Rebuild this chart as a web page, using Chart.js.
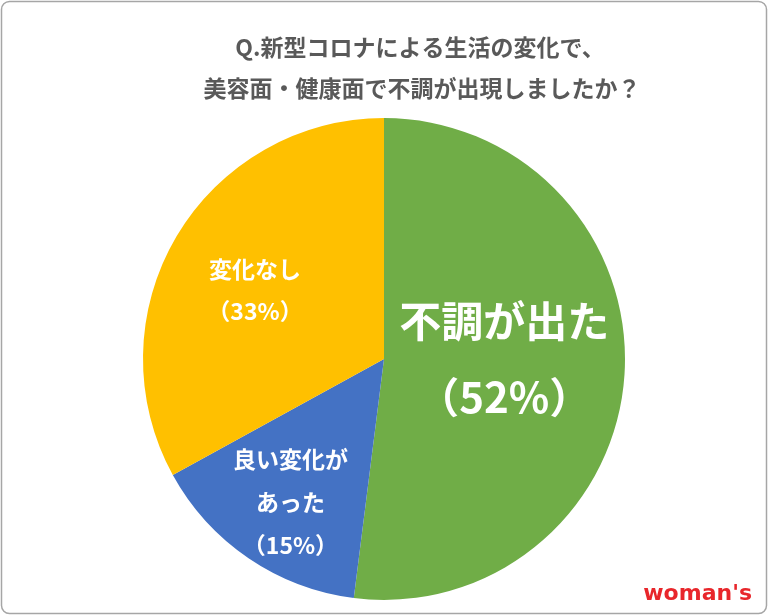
<!DOCTYPE html>
<html><head><meta charset="utf-8">
<script src="https://cdn.jsdelivr.net/npm/chart.js@4"></script>
<style>html,body{margin:0;padding:0;background:#fff}#wrap{width:768px;height:615px;position:relative}</style>
</head><body><div id="wrap"><canvas id="c" width="768" height="615"></canvas></div>
<script>
const categories = ["不調が出た", "良い変化があった", "変化なし"];
const values = [52, 15, 33];
const labelLines = [["不調が出た", "（52%）"], ["良い変化が", "あった", "（15%）"], ["変化なし", "（33%）"]];
const colors = ["#70AD47", "#4472C4", "#FFC000"];
const titleLines = ["Q.新型コロナによる生活の変化で、", "美容面・健康面で不調が出現しましたか？"];

const FONT = '"Noto Sans CJK JP","Noto Sans",sans-serif';
const labelStyle = [
  {rf:0.5, dx:0, dy:-8, size:42, gap:76},
  {rf:0.72, dx:4, dy:0, size:23, gap:43},
  {rf:0.88, dx:0, dy:0, size:23, gap:42}
];

const deco = {
  id:'deco',
  beforeDraw(chart){
    const ctx = chart.ctx;
    ctx.save();
    ctx.fillStyle = '#fff'; ctx.fillRect(0,0,768,615);
    ctx.strokeStyle = '#a6a6a6'; ctx.lineWidth = 1.5;
    ctx.beginPath(); ctx.roundRect(1.5,1.5,765,612,8); ctx.stroke();
    ctx.fillStyle = '#595959'; ctx.font = 'bold 23px '+FONT; ctx.textAlign='center'; ctx.textBaseline='middle';
    ctx.fillText(titleLines[0], 420, 47);
    ctx.fillText(titleLines[1], 422, 88);
    ctx.restore();
  },
  afterDatasetsDraw(chart){
    const ctx = chart.ctx;
    const meta = chart.getDatasetMeta(0);
    ctx.save();
    ctx.textAlign='center'; ctx.textBaseline='middle'; ctx.fillStyle='#fff';
    meta.data.forEach((arc,i)=>{
      const p = arc.getProps(['x','y','startAngle','endAngle','outerRadius'], true);
      const s = labelStyle[i];
      const mid = (p.startAngle+p.endAngle)/2;
      let cx = p.x + Math.cos(mid)*p.outerRadius*s.rf + s.dx;
      let cy = p.y + Math.sin(mid)*p.outerRadius*s.rf + s.dy;
      if(i===2){ cx = p.x - 129; cy = p.y - 69; }
      const lines = labelLines[i];
      ctx.font = 'bold '+s.size+'px '+FONT;
      lines.forEach((t,k)=>{
        ctx.fillText(t, cx, cy + (k-(lines.length-1)/2)*s.gap);
      });
    });
    ctx.font = 'bold 22px "DejaVu Sans",sans-serif'; ctx.fillStyle='#e8262b'; ctx.textAlign='right';
    ctx.fillText("woman's", 752, 594);
    ctx.restore();
  }
};

new Chart(document.getElementById('c'), {
  type:'pie',
  data:{labels:categories, datasets:[{data:values, backgroundColor:colors, borderColor:'#fff', borderWidth:0}]},
  options:{
    responsive:false, animation:false,
    layout:{padding:{top:118,bottom:15,left:0,right:0}},
    plugins:{legend:{display:false}, tooltip:{enabled:false}, title:{display:false}}
  },
  plugins:[deco]
});
</script></body></html>
